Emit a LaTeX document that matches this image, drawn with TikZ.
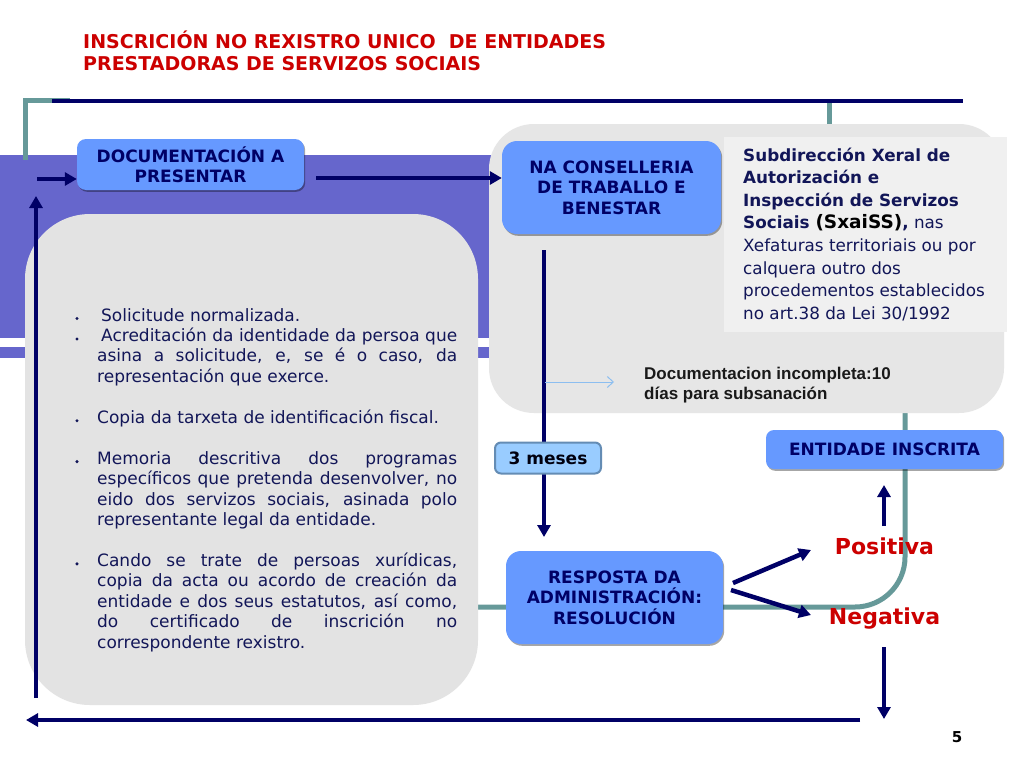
\documentclass[tikz,border=0pt]{standalone}
\usepackage{fontspec}
\setmainfont{DejaVu Sans}
\newfontfamily\arialf{Liberation Sans}
\usetikzlibrary{arrows.meta,shadows}
\definecolor{navy}{RGB}{0,0,102}
\definecolor{txtnavy}{RGB}{18,22,88}
\definecolor{tealc}{RGB}{102,153,153}
\definecolor{purp}{RGB}{102,102,204}
\definecolor{grayA}{RGB}{227,227,227}
\definecolor{grayB}{RGB}{230,230,230}
\definecolor{grayC}{RGB}{240,240,240}
\definecolor{boxblue}{RGB}{102,153,255}
\definecolor{lightblue}{RGB}{153,204,255}
\definecolor{mesesborder}{RGB}{100,140,180}
\definecolor{redc}{RGB}{204,0,0}
\definecolor{thinblue}{RGB}{140,190,240}
\newcommand\jus[2][360pt]{\makebox[#1][s]{#2}}
\begin{document}
\begin{tikzpicture}[x=1pt,y=-1pt,
  navyarrow/.style={draw=navy, line width=4.5pt, -{Triangle[length=12pt,width=13pt]}},
  bluebox/.style={fill=boxblue, rounded corners=10pt, inner sep=0pt, align=center, text=navy,
    font=\bfseries\fontsize{17}{20.5}\selectfont,
    drop shadow={shadow xshift=1.2pt, shadow yshift=-1.8pt, fill=black, opacity=0.35}},
  bl/.style={anchor=base west, inner sep=0pt, text=txtnavy, font=\fontsize{17}{20}\selectfont},
  sl/.style={anchor=base west, inner sep=0pt, text=txtnavy, font=\fontsize{16.8}{20}\selectfont},
  slb/.style={sl, font=\bfseries\fontsize{16.8}{20}\selectfont},
  titlel/.style={anchor=base west, inner sep=0pt, text=redc, font=\bfseries\fontsize{19}{22}\selectfont},
  outcome/.style={inner sep=0pt, text=redc, font=\bfseries\fontsize{22}{24}\selectfont},
  noteline/.style={anchor=base west, inner sep=0pt, text=black!90, font=\arialf\bfseries\fontsize{17}{19}\selectfont},
  bulletdot/.style={fill=txtnavy}
]
\useasboundingbox (0,0) rectangle (1024,768);
\fill[white] (0,0) rectangle (1024,768);

% title
\node[titlel] (t1) at (83,48.5) {INSCRICIÓN NO REXISTRO UNICO \ DE ENTIDADES};
\node[titlel] (t2) at (83,70.5) {PRESTADORAS DE SERVIZOS SOCIAIS};

% purple bands
\fill[purp] (0,155) rectangle (500,338);
\fill[purp] (0,347) rectangle (500,358);

% teal frame lines
\draw[tealc, line width=5pt] (25,160) -- (25,100.5) -- (70,100.5);
\draw[tealc, line width=5pt] (829,100) -- (829,135);
\draw[tealc, line width=5pt, rounded corners=50pt] (905,400) -- (905,607) -- (470,607);
% top navy line
\draw[navy, line width=4pt] (52,100.8) -- (963,100.8);

% gray panels
\fill[grayB, rounded corners=45pt] (489,124) rectangle (1004,413);
\fill[grayA, rounded corners=65pt] (25,214) rectangle (478,705);
\node[fill=grayC, minimum width=283pt, minimum height=195pt, inner sep=0pt] (subbox) at (865.5,234.5) {};

% blue boxes
\node[bluebox, minimum width=227pt, minimum height=51pt, rounded corners=9pt] (doc) at (190.5,164.5) {DOCUMENTACIÓN A\\PRESENTAR};
\node[bluebox, minimum width=219pt, minimum height=93pt, rounded corners=15pt] (cons) at (611.5,187.5) {NA CONSELLERIA\\DE TRABALLO E\\BENESTAR};
\node[bluebox, minimum width=217pt, minimum height=93pt, rounded corners=15pt] (resp) at (614.5,597.5) {RESPOSTA DA\\ADMINISTRACIÓN:\\RESOLUCIÓN};
\node[bluebox, minimum width=237pt, minimum height=39pt, rounded corners=8pt] (ent) at (884.5,449.5) {ENTIDADE INSCRITA};

% outcomes
\node[outcome] (pos) at (884.5,546) {Positiva};
\node[outcome] (neg) at (884.5,619) {Negativa};

% arrow coordinates
\coordinate (inS) at (37,179);
\coordinate (upS) at (36,698);
\coordinate (upE) at (36,196);
\coordinate (dcS) at (316,178);
\coordinate (crS) at (544,250);
\coordinate (crE) at (544,537);
\coordinate (rpS) at (733,583);
\coordinate (rpE) at (811,550);
\coordinate (rnS) at (731,590);
\coordinate (rnE) at (811,615);
\coordinate (peS) at (884,526);
\coordinate (peE) at (884,485);
\coordinate (ndS) at (884,647);
\coordinate (ndE) at (884,719);
\coordinate (btS) at (860,720);
\coordinate (btE) at (26,720);
\coordinate (thS) at (545,382);
\coordinate (thE) at (614,382);

\draw[navyarrow] (inS) -- (inS -| doc.west);
\draw[navyarrow] (upS) -- (upE);
\draw[navyarrow] (dcS) -- (dcS -| cons.west);
\draw[navyarrow] (crS) -- (crE);
\draw[navyarrow] (rpS) -- (rpE);
\draw[navyarrow] (rnS) -- (rnE);
\draw[navyarrow] (peS) -- (peE);
\draw[navyarrow] (ndS) -- (ndE);
\draw[navyarrow] (btS) -- (btE);
\draw[thinblue, line width=1pt, -{Straight Barb[length=6pt,width=11pt]}] (thS) -- (thE);

% 3 meses box (on top of the arrow)
\node[fill=lightblue, draw=mesesborder, line width=2pt, rounded corners=6pt, minimum width=106pt, minimum height=31pt, inner sep=0pt,
  text=black!85!navy, font=\bfseries\fontsize{17}{20}\selectfont] (meses) at (548,458) {3 meses};

% note
\node[noteline] (n1) at (644,379) {Documentacion incompleta:10};
\node[noteline] (n2) at (644,399.5) {días para subsanación};

% subdireccion text
\node[slb] (s1) at (743,161) {Subdirección Xeral de};
\node[slb] (s2) at (743,183.6) {Autorización e};
\node[slb] (s3) at (743,206.2) {Inspección de Servizos};
\node[sl] (s4) at (743,228.8) {\textbf{Sociais {\color{black}\fontsize{18.5}{20}\selectfont(SxaiSS)},} nas};
\node[sl] (s5) at (743,251.4) {Xefaturas territoriais ou por};
\node[sl] (s6) at (743,274) {calquera outro dos};
\node[sl] (s7) at (743,296.6) {procedementos establecidos};
\node[sl] (s8) at (743,319.2) {no art.38 da Lei 30/1992};

% left list
\node[bl] (l1) at (101,321) {Solicitude normalizada.};
\node[bl] (l2) at (101,341.45) {\jus[356pt]{Acreditación da identidade da persoa que}};
\node[bl] (l3) at (97,361.9) {\jus{asina a solicitude, e, se é o caso, da}};
\node[bl] (l4) at (97,382.35) {representación que exerce.};
\node[bl] (l6) at (97,423.25) {Copia da tarxeta de identificación fiscal.};
\node[bl] (l8) at (97,464.15) {\jus{Memoria descritiva dos programas}};
\node[bl] (l9) at (97,484.6) {\jus{específicos que pretenda desenvolver, no}};
\node[bl] (l10) at (97,505.05) {\jus{eido dos servizos sociais, asinada polo}};
\node[bl] (l11) at (97,525.5) {representante legal da entidade.};
\node[bl] (l13) at (97,566.4) {\jus{Cando se trate de persoas xurídicas,}};
\node[bl] (l14) at (97,586.85) {\jus{copia da acta ou acordo de creación da}};
\node[bl] (l15) at (97,607.3) {\jus{entidade e dos seus estatutos, así como,}};
\node[bl] (l16) at (97,627.75) {\jus{do certificado de inscrición no}};
\node[bl] (l17) at (97,648.2) {correspondente rexistro.};
\foreach \by in {321,341.45,423.25,464.15,566.4}
  \fill[bulletdot] (77,\by-2.5) circle (1.7pt);

% page number
\node[inner sep=0pt, font=\bfseries\fontsize{15}{16}\selectfont, text=black] (pg) at (957,737) {5};
\end{tikzpicture}
\end{document}
